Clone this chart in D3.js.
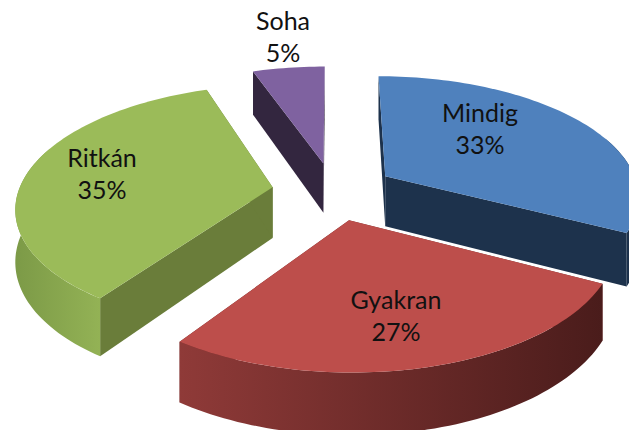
<!DOCTYPE html>
<html>
<head>
<meta charset="utf-8">
<script src="https://cdn.jsdelivr.net/npm/d3@7"></script>
<style>
  html, body { margin: 0; padding: 0; background: #fff; overflow: hidden; }
  text { font-family: Lato, "Open Sans", sans-serif; font-size: 25px; fill: #111; text-anchor: middle; }
</style>
</head>
<body>
<svg id="chart" width="629" height="430"></svg>
<script>
// data, the printed labels are these rounded
const categories = ["Mindig", "Gyakran", "Ritkán", "Soha"];
const percents = [32.6, 27, 35, 5.4];

// Settings
const topColors = ["#4f81bd", "#bd4e4b", "#9bbb59", "#7f62a0"];
const sideColors = ["#1d324c", "#6e2a28", "#6a7d3a", "#33263f"];
const wallFrom = ["#1d324c", "#8f3a38", "#7c9a47", "#33263f"];
const wallTo = ["#1d324c", "#4a1c1b", "#93b255", "#33263f"];
const drawOrder = [3, 0, 2, 1];
// first baseline of each label, picked by eye because the original uses "best fit" placement
const labelX = [480, 396, 102, 283];
const labelY = [122, 309, 167, 30];
const lineGap = 31.5;

const centerX = 333.5, groundY = 191, horizonY = -594;
const radiusX = 254;
const perspective = 0.152;
const explode = 0.243;
const depth = 51;
// outer wall runs a bit past the sides, perspective moves the silhouette forward
const wallOverrun = 0.35;

const svg = d3.select("#chart");
const defs = svg.append("defs");

// pie plane (x to the right, z away from viewer, radius 1) to screen
function project(x, z, drop) {
    let w = 1 / (1 + z * perspective);
    return [centerX + radiusX * x * w, horizonY + (groundY - horizonY) * w + drop * depth * w];
}

let pie = d3.pie().sort(null).value(d => d);
let arcs = pie(percents);

arcs.forEach(function (a, i) {
    let mid = (a.startAngle + a.endAngle) / 2;
    a.ox = explode * Math.sin(mid);
    a.oz = explode * Math.cos(mid);
});

function pointAt(a, angle, radius, drop) {
    return project(a.ox + radius * Math.sin(angle), a.oz + radius * Math.cos(angle), drop);
}

function arcPoints(a, from, to, drop) {
    let n = Math.max(2, Math.ceil((to - from) * 40));
    return d3.range(n + 1).map(k => pointAt(a, from + (to - from) * k / n, 1, drop));
}

let line = d3.line();

function wall(pts) {
    return line(pts) + "Z";
}

drawOrder.forEach(function (i) {
    let a = arcs[i];
    let g = svg.append("g").attr("class", "slice");
    let apexTop = pointAt(a, 0, 0, 0), apexBottom = pointAt(a, 0, 0, 1);

    // radial walls
    [a.startAngle, a.endAngle].forEach(function (angle) {
        g.append("path")
            .attr("d", wall([apexTop, pointAt(a, angle, 1, 0), pointAt(a, angle, 1, 1), apexBottom]))
            .attr("fill", sideColors[i]);
    });

    // outer wall, only the part facing the viewer
    let from = Math.max(a.startAngle, Math.PI / 2 - wallOverrun);
    let to = Math.min(a.endAngle, Math.PI * 1.5 + wallOverrun);
    if (to > from) {
        let upper = arcPoints(a, from, to, 0);
        let lower = arcPoints(a, from, to, 1).reverse();
        let xs = upper.map(p => p[0]);
        let grad = defs.append("linearGradient")
            .attr("id", "wall" + i)
            .attr("gradientUnits", "userSpaceOnUse")
            .attr("x1", d3.min(xs)).attr("x2", d3.max(xs))
            .attr("y1", 0).attr("y2", 0);
        grad.append("stop").attr("offset", 0).attr("stop-color", wallFrom[i]);
        grad.append("stop").attr("offset", 1).attr("stop-color", wallTo[i]);
        g.append("path")
            .attr("d", wall(upper.concat(lower)))
            .attr("fill", "url(#wall" + i + ")");
    }

    // top face
    g.append("path")
        .attr("d", wall([apexTop].concat(arcPoints(a, a.startAngle, a.endAngle, 0))))
        .attr("fill", topColors[i]);
});

// labels
categories.forEach(function (name, i) {
    let t = svg.append("text").attr("y", labelY[i]);
    t.append("tspan").attr("x", labelX[i]).text(name);
    t.append("tspan").attr("x", labelX[i]).attr("dy", lineGap).text(Math.round(percents[i]) + "%");
});
</script>
</body>
</html>
